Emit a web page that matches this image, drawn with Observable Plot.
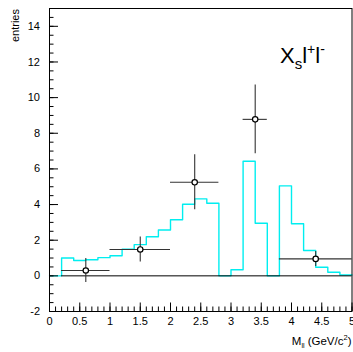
<!DOCTYPE html>
<html><head><meta charset="utf-8">
<script src="https://cdn.jsdelivr.net/npm/d3@7"></script>
<script src="https://cdn.jsdelivr.net/npm/@observablehq/plot@0.6"></script>
<style>body{margin:0;background:#fff}</style>
</head><body><div id="chart"></div>
<script>
// Histogram (cyan): bin edges and contents
const binEdges = [0,0.2,0.4,0.6,0.8,1.0,1.2,1.4,1.6,1.8,2.0,2.2,2.4,2.6,2.8,3.0,3.2,3.4,3.6,3.8,4.0,4.2,4.4,4.6,4.8,5.0];
const histValues = [0,1.0,0.86,0.9,1.02,1.13,1.49,1.75,2.19,2.57,3.15,4.02,4.32,4.07,0,0.34,6.43,2.95,0,5.05,2.92,1.42,0.48,0.2,0.05];

// Data points with errors
const ptX   = [0.6, 1.5, 2.4, 3.4, 4.4];
const ptY   = [0.3, 1.48, 5.25, 8.78, 0.95];
const ptXlo = [0.2, 1.0, 2.0, 3.2, 3.8];
const ptXhi = [1.0, 2.0, 2.8, 3.6, 5.0];
const ptErr = [0.67, 0.7, 1.54, 1.93, 0.42];

// Axis ticks
const xMajor = [0,0.5,1,1.5,2,2.5,3,3.5,4,4.5,5];
const yMajor = [-2,0,2,4,6,8,10,12,14];
const xMinor = d3.range(0, 5.001, 0.1).map(v => +v.toFixed(2));
const yMinor = d3.range(-2, 15.001, 0.5);

const W = 353, H = 352;
const mL = 49, mR = 1.5, mT = 8, mB = 41;
const frameW = W - mL - mR, frameH = H - mT - mB;

const steps = histValues.map((v, i) => ({x: binEdges[i], y: v}));
steps.push({x: binEdges[binEdges.length - 1], y: histValues[histValues.length - 1]});

const pts = ptX.map((x, i) => ({x, y: ptY[i], xlo: ptXlo[i], xhi: ptXhi[i], ylo: ptY[i] - ptErr[i], yhi: ptY[i] + ptErr[i]}));

const font = "Liberation Sans, Arial, Helvetica, sans-serif";

const svg = Plot.plot({
  width: W, height: H,
  marginLeft: mL, marginRight: mR, marginTop: mT, marginBottom: mB,
  style: {fontFamily: font, fontSize: "11px", background: "#fff", color: "#000"},
  x: {domain: [0, 5]},
  y: {domain: [-2, 15]},
  marks: [
    Plot.lineY(steps, {x: "x", y: "y", curve: "step-after", stroke: "#00eef0", strokeWidth: 1.4}),
    Plot.ruleY([0], {x1: ptXlo[0], x2: ptXhi[ptXhi.length - 1], stroke: "#000", strokeWidth: 1}),
    Plot.ruleY(pts, {y: "y", x1: "xlo", x2: "xhi", stroke: "#333", strokeWidth: 1.1}),
    Plot.ruleX(pts, {x: "x", y1: "ylo", y2: "yhi", stroke: "#333", strokeWidth: 1.1}),
    Plot.dot(pts, {x: "x", y: "y", r: 2.7, fill: "#fff", stroke: "#000", strokeWidth: 1.2}),
    Plot.frame({stroke: "#000", strokeWidth: 1}),
    Plot.tickX(xMinor, {x: d => d, stroke: "#000", insetTop: frameH - 4.5}),
    Plot.tickX(xMajor, {x: d => d, stroke: "#000", insetTop: frameH - 8.5}),
    Plot.tickY(yMinor, {y: d => d, stroke: "#000", insetRight: frameW - 4.5}),
    Plot.tickY(yMajor, {y: d => d, stroke: "#000", insetRight: frameW - 9}),
    Plot.axisX(xMajor, {tickSize: 0, tickPadding: 6, fontSize: 11, tickFormat: d => String(d), label: null}),
    Plot.axisY(yMajor, {tickSize: 0, tickPadding: 9.5, fontSize: 11, tickFormat: d => String(d), label: null})
  ]
});

document.getElementById("chart").appendChild(svg);

const s = d3.select(svg);
// Title X_s l+ l-
const t = s.append("text").attr("x", 280).attr("y", 63).attr("text-anchor", "start")
  .attr("font-family", font).attr("font-size", 22).attr("fill", "#000");
t.append("tspan").text("X");
t.append("tspan").attr("font-size", 15).attr("dy", 6).text("s");
t.append("tspan").attr("font-size", 22).attr("dy", -6).text("l");
t.append("tspan").attr("font-size", 14).attr("dy", -9).text("+");
t.append("tspan").attr("font-size", 22).attr("dy", 9).text("l");
t.append("tspan").attr("font-size", 14).attr("dy", -9).text("-");

// X axis label
const xl = s.append("text").attr("x", 351.5).attr("y", 345).attr("text-anchor", "end")
  .attr("font-family", font).attr("font-size", 11.5).attr("fill", "#000");
xl.append("tspan").text("M");
xl.append("tspan").attr("font-size", 7).attr("dy", 2.5).text("ll");
xl.append("tspan").attr("font-size", 11.5).attr("dy", -2.5).text(" (GeV/c");
xl.append("tspan").attr("font-size", 7.5).attr("dy", -5).text("2");
xl.append("tspan").attr("font-size", 11.5).attr("dy", 5).text(")");

// Y axis label
s.append("text").attr("transform", "translate(19.3,9) rotate(-90)").attr("text-anchor", "end")
  .attr("font-family", font).attr("font-size", 11).attr("fill", "#000").text("entries");
</script>
</body></html>
